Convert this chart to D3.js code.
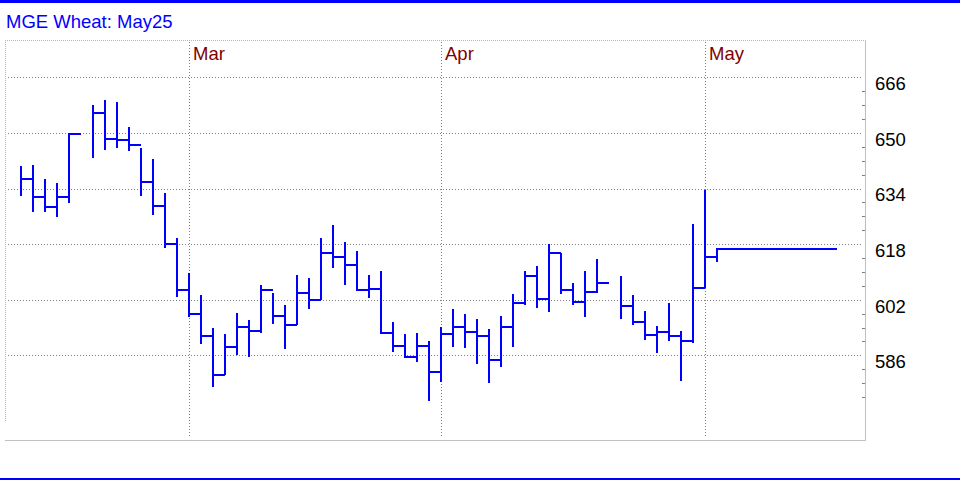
<!DOCTYPE html>
<html>
<head>
<meta charset="utf-8">
<script src="https://cdn.jsdelivr.net/npm/d3@7/dist/d3.min.js"></script>
<style>
  html, body { margin: 0; padding: 0; background: #fff; }
  svg { display: block; }
  text { font-family: "Liberation Sans", Arial, sans-serif; font-size: 18.5px; }
</style>
</head>
<body>
<svg id="chart" width="960" height="480"></svg>
<script>
// ---- data ----
const title = "MGE Wheat: May25";
const dates = [
  "2025-02-10","2025-02-11","2025-02-12","2025-02-13","2025-02-14",
  "2025-02-17","2025-02-18","2025-02-19","2025-02-20","2025-02-21",
  "2025-02-24","2025-02-25","2025-02-26","2025-02-27","2025-02-28",
  "2025-03-03","2025-03-04","2025-03-05","2025-03-06","2025-03-07",
  "2025-03-10","2025-03-11","2025-03-12","2025-03-13","2025-03-14",
  "2025-03-17","2025-03-18","2025-03-19","2025-03-20","2025-03-21",
  "2025-03-24","2025-03-25","2025-03-26","2025-03-27","2025-03-28",
  "2025-03-31","2025-04-01","2025-04-02","2025-04-03","2025-04-04",
  "2025-04-07","2025-04-08","2025-04-09","2025-04-10","2025-04-11",
  "2025-04-14","2025-04-15","2025-04-16","2025-04-17","2025-04-18",
  "2025-04-21","2025-04-22","2025-04-23","2025-04-24","2025-04-25",
  "2025-04-28","2025-04-29","2025-04-30","2025-05-01"
];
const highs = [
  640.5,640.8,636.7,635.6,649.9, null,658.0,659.5,658.9,651.6,
  645.7,642.5,632.6,619.8,609.8, 603.4,593.9,592.1,598.1,596.2,
  606.1,603.8,600.4,609.1,608.2, 619.8,623.5,618.5,616.0,609.1,
  610.3,595.6,592.1,592.4,590.2, 594.1,599.3,597.8,596.4,593.6,
  597.3,603.6,610.3,611.7,618.0, 615.4,606.8,610.3,613.7, null,
  608.8,603.3,598.8,594.4,601.0, 593.0,623.8,633.6,616.6
];
const lows = [
  631.9,627.3,627.2,625.9,629.9, null,642.9,645.1,645.7,644.9,
  631.9,626.5,617.0,602.9,597.1, 589.3,576.8,580.2,586.0,585.4,
  592.3,595.1,587.9,594.8,599.4, 602.0,611.2,606.3,604.8,602.6,
  592.3,587.0,585.5,584.2,572.9, 578.4,588.5,588.0,583.4,577.9,
  582.5,588.5,600.4,599.7,598.5, 603.6,600.4,597.1,603.8, null,
  596.5,594.8,590.5,586.7,590.2, 578.7,589.6,605.3,612.9
];
const closes = [
  636.6,631.5,628.6,631.6,649.6, null,655.8,648.2,648.0,646.6,
  636.0,629.1,618.1,604.9,598.0, 591.6,580.4,588.3,594.2,593.1,
  604.9,597.4,594.7,604.0,602.0, 615.4,614.4,612.1,604.9,605.2,
  592.4,588.8,585.6,588.8,581.3, 592.2,594.2,592.8,591.6,584.7,
  594.2,601.1,608.9,602.3,615.4, 604.9,601.4,604.1,606.7, null,
  600.3,595.7,591.8,592.8,591.6, 590.1,605.3,614.4,616.6
];
const lastCloseExtendSlots = 10;
const monthLabels = ["Mar","Apr","May"];
const monthBoundaryDates = ["2025-02-28","2025-03-31","2025-04-30"];
const yTickLabels = [586, 602, 618, 634, 650, 666];
const yMinorTicks = [574,578,582,590,594,598,606,610,614,622,626,630,638,642,646,654,658,662];

// ---- layout ----
const svg = d3.select("#chart");
const plot = {left: 5, right: 865, top: 40, bottom: 440};
const x = d3.scaleLinear().domain([0, 68]).range([21, 837]);
const y = d3.scaleLinear().domain([586, 666]).range([355.3, 77.3]);
const blue = "#0000ff";

// blue borders
svg.append("rect").attr("x",0).attr("y",0).attr("width",960).attr("height",3).attr("fill",blue);
svg.append("rect").attr("x",0).attr("y",478).attr("width",960).attr("height",2).attr("fill",blue);

// title
svg.append("text").attr("x",6).attr("y",28).attr("fill",blue).text(title);

// frame
const g = svg.append("g");
g.append("line").attr("x1",plot.left).attr("x2",plot.right).attr("y1",plot.top+0.5).attr("y2",plot.top+0.5)
  .attr("stroke","#b4b4b4").attr("stroke-dasharray","1,1");
g.append("line").attr("x1",plot.left+0.5).attr("x2",plot.left+0.5).attr("y1",plot.top).attr("y2",421)
  .attr("stroke","#b4b4b4").attr("stroke-dasharray","1,1");
g.append("line").attr("x1",plot.left).attr("x2",plot.right+1).attr("y1",plot.bottom+0.5).attr("y2",plot.bottom+0.5)
  .attr("stroke","#c0c0c0");
g.append("line").attr("x1",plot.right+0.5).attr("x2",plot.right+0.5).attr("y1",plot.top).attr("y2",plot.bottom)
  .attr("stroke","#c0c0c0");

// horizontal gridlines
g.selectAll(".hgrid").data(yTickLabels).enter().append("line")
  .attr("x1",plot.left+3).attr("x2",862)
  .attr("y1",d=>Math.round(y(d))+0.5).attr("y2",d=>Math.round(y(d))+0.5)
  .attr("stroke","#808080").attr("stroke-dasharray","1,2");

// vertical month gridlines
const monthIdx = monthBoundaryDates.map(d => dates.indexOf(d));
g.selectAll(".vgrid").data(monthIdx).enter().append("line")
  .attr("x1",d=>Math.round(x(d))+0.5).attr("x2",d=>Math.round(x(d))+0.5)
  .attr("y1",plot.top+2).attr("y2",437)
  .attr("stroke","#808080").attr("stroke-dasharray","1,2");
g.selectAll(".mlab").data(monthIdx).enter().append("text")
  .attr("x",d=>x(d)+4).attr("y",60).attr("fill","#800000")
  .text((d,i)=>monthLabels[i]);

// right axis
g.selectAll(".ytick").data(yMinorTicks).enter().append("line")
  .attr("x1",862).attr("x2",865)
  .attr("y1",d=>Math.round(y(d))+0.5).attr("y2",d=>Math.round(y(d))+0.5)
  .attr("stroke","#808080");
g.selectAll(".ylab").data(yTickLabels).enter().append("text")
  .attr("x",875).attr("y",d=>y(d)+12.8).attr("fill","#000")
  .text(d=>d);

// HLC bars
const bars = dates.map((d,i)=>({i, h:highs[i], l:lows[i], c:closes[i]})).filter(d=>d.h!=null);
const last = bars[bars.length-1];
const bg = svg.append("g").attr("stroke",blue).attr("stroke-width",2).attr("shape-rendering","crispEdges");
bg.selectAll(".hl").data(bars).enter().append("line")
  .attr("x1",d=>x(d.i)).attr("x2",d=>x(d.i))
  .attr("y1",d=>y(d.h)).attr("y2",d=>y(d.l));
bg.selectAll(".cl").data(bars).enter().append("line")
  .attr("x1",d=>x(d.i)-1)
  .attr("x2",d=>x(d.i + (d===last ? lastCloseExtendSlots : 1)))
  .attr("y1",d=>y(d.c)).attr("y2",d=>y(d.c));
</script>
</body>
</html>
